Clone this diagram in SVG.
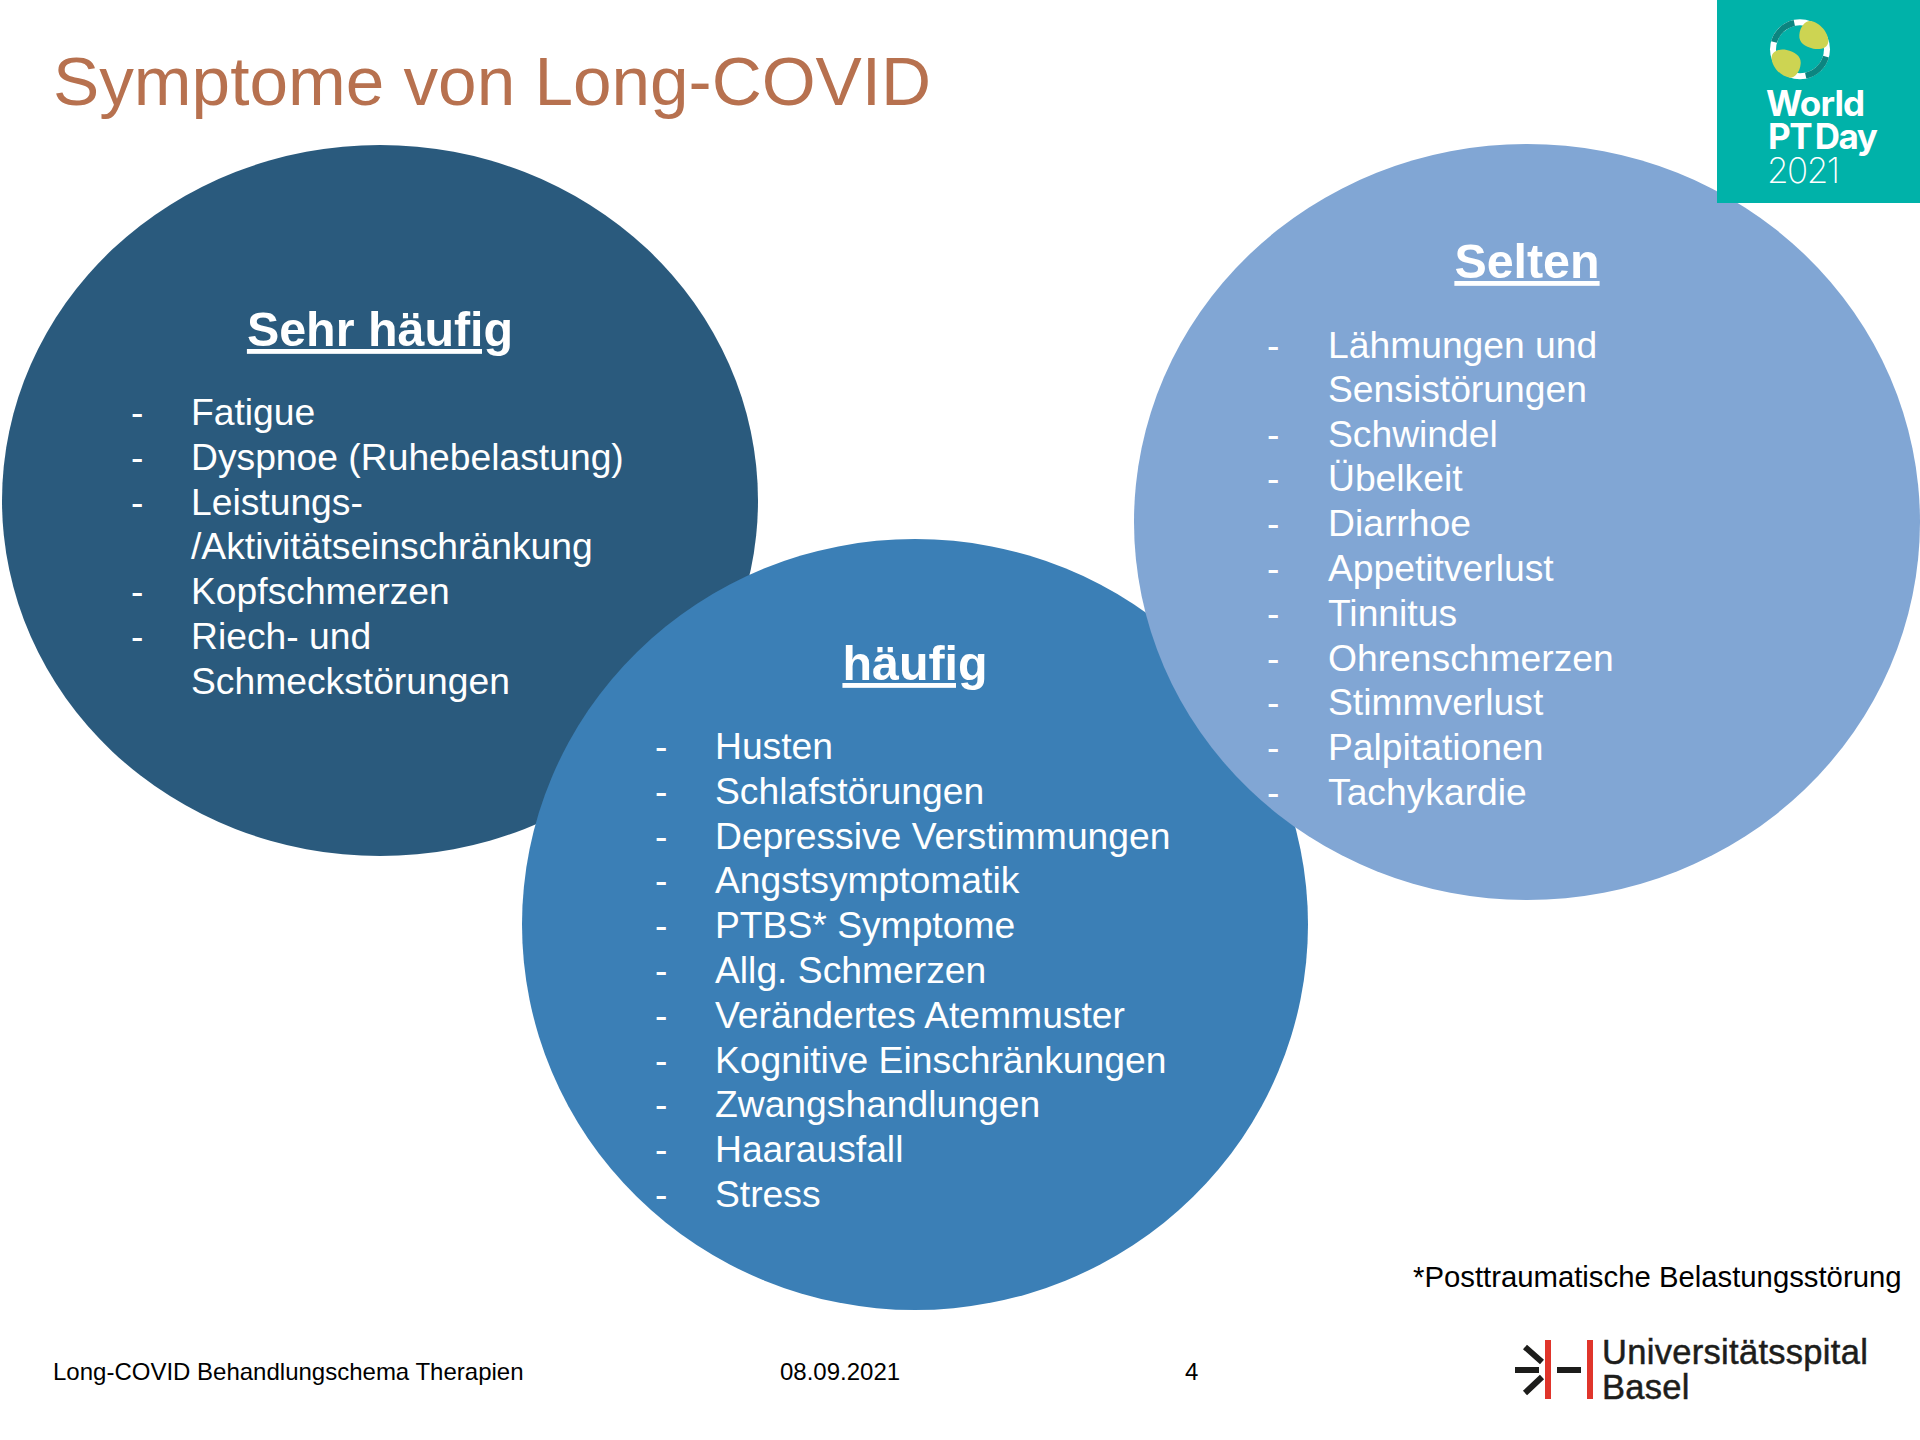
<svg xmlns="http://www.w3.org/2000/svg" width="1920" height="1440" viewBox="0 0 1920 1440">
<style>
text{font-family:"Liberation Sans",Arial,sans-serif}
.title{font-size:69.3px;fill:#b7714f}
.head{font-size:48.4px;font-weight:700;fill:#fff;text-anchor:middle;text-decoration:underline}
.item{font-size:37.25px;fill:#fff}
.foot{font-size:24px;fill:#000}
.note{font-size:29.3px;fill:#000}
.lg{font-family:Inter,"Liberation Sans",sans-serif;fill:#fff;font-size:35px;font-weight:700;letter-spacing:-1.3px}
.ub{fill:#1d1d1b;font-size:34.5px;letter-spacing:.3px;stroke:#1d1d1b;stroke-width:.5px}
.arc{fill:none;stroke:#0c8580;stroke-width:18}
.blob{fill:#cdd452}
</style>
<rect width="1920" height="1440" fill="#fff"/>
<text class="title" x="53" y="105">Symptome von Long-COVID</text>
<g id="node-sehr-haeufig">
<ellipse cx="380" cy="500.5" rx="378" ry="355.5" fill="#2a5a7d"/>
<text class="head" x="380" y="346">Sehr häufig</text>
<text class="item" x="131" y="425">-</text><text class="item" x="191" y="425">Fatigue</text>
<text class="item" x="131" y="470">-</text><text class="item" x="191" y="470">Dyspnoe (Ruhebelastung)</text>
<text class="item" x="131" y="515">-</text><text class="item" x="191" y="515">Leistungs-</text>
<text class="item" x="191" y="559">/Aktivitätseinschränkung</text>
<text class="item" x="131" y="604">-</text><text class="item" x="191" y="604">Kopfschmerzen</text>
<text class="item" x="131" y="649">-</text><text class="item" x="191" y="649">Riech- und</text>
<text class="item" x="191" y="694">Schmeckstörungen</text>
</g>
<g id="node-haeufig">
<ellipse cx="915" cy="924.5" rx="393" ry="385.5" fill="#3b7fb6"/>
<text class="head" x="915" y="680">häufig</text>
<text class="item" x="655" y="759">-</text><text class="item" x="715" y="759">Husten</text>
<text class="item" x="655" y="804">-</text><text class="item" x="715" y="804">Schlafstörungen</text>
<text class="item" x="655" y="849">-</text><text class="item" x="715" y="849">Depressive Verstimmungen</text>
<text class="item" x="655" y="893">-</text><text class="item" x="715" y="893">Angstsymptomatik</text>
<text class="item" x="655" y="938">-</text><text class="item" x="715" y="938">PTBS* Symptome</text>
<text class="item" x="655" y="983">-</text><text class="item" x="715" y="983">Allg. Schmerzen</text>
<text class="item" x="655" y="1028">-</text><text class="item" x="715" y="1028">Verändertes Atemmuster</text>
<text class="item" x="655" y="1073">-</text><text class="item" x="715" y="1073">Kognitive Einschränkungen</text>
<text class="item" x="655" y="1117">-</text><text class="item" x="715" y="1117">Zwangshandlungen</text>
<text class="item" x="655" y="1162">-</text><text class="item" x="715" y="1162">Haarausfall</text>
<text class="item" x="655" y="1207">-</text><text class="item" x="715" y="1207">Stress</text>
</g>
<g id="node-selten">
<ellipse cx="1527" cy="522" rx="393" ry="378" fill="#81a6d4"/>
<text class="head" x="1527" y="278">Selten</text>
<text class="item" x="1267" y="358">-</text><text class="item" x="1328" y="358">Lähmungen und</text>
<text class="item" x="1328" y="402">Sensistörungen</text>
<text class="item" x="1267" y="447">-</text><text class="item" x="1328" y="447">Schwindel</text>
<text class="item" x="1267" y="491">-</text><text class="item" x="1328" y="491">Übelkeit</text>
<text class="item" x="1267" y="536">-</text><text class="item" x="1328" y="536">Diarrhoe</text>
<text class="item" x="1267" y="581">-</text><text class="item" x="1328" y="581">Appetitverlust</text>
<text class="item" x="1267" y="626">-</text><text class="item" x="1328" y="626">Tinnitus</text>
<text class="item" x="1267" y="671">-</text><text class="item" x="1328" y="671">Ohrenschmerzen</text>
<text class="item" x="1267" y="715">-</text><text class="item" x="1328" y="715">Stimmverlust</text>
<text class="item" x="1267" y="760">-</text><text class="item" x="1328" y="760">Palpitationen</text>
<text class="item" x="1267" y="805">-</text><text class="item" x="1328" y="805">Tachykardie</text>
</g>
<g id="logo-world-pt-day">
<rect x="1717" y="0" width="203" height="203" fill="#00b2a9"/>
<g transform="translate(1760 10) scale(.3333)">
<circle cx="120" cy="118" r="90" fill="#fff"/>
<circle cx="120" cy="118" r="72" fill="#00b2a9"/>
<path class="arc" d="M42 96A81 81 0 0 1 103 39"/>
<path class="arc" d="M198 140A81 81 0 0 1 137 197"/>
<path class="blob" d="M118 75C120 50 135 33 150 33C180 36 207 70 205 95C203 115 180 120 160 116C135 110 116 98 118 75Z"/>
<path class="blob" d="M122 161C120 186 105 203 90 203C60 200 33 166 35 141C37 121 60 116 80 120C105 126 124 138 122 161Z"/>
</g>
<text class="lg" x="1766" y="116" style="letter-spacing:-.8px">World</text>
<text class="lg" x="1768" y="149" style="word-spacing:-3.5px;letter-spacing:-1.4px">PT Day</text>
<text class="lg" x="1767" y="183" style="font-weight:200;letter-spacing:-1.5px">2021</text>
</g>
<text class="note" x="1413" y="1287">*Posttraumatische Belastungsstörung</text>
<text class="foot" x="53" y="1380">Long-COVID Behandlungschema Therapien</text>
<text class="foot" x="780" y="1380">08.09.2021</text>
<text class="foot" x="1185" y="1380">4</text>
<g id="logo-unispital">
<path d="M1545 1340h6v59h-6zM1587 1340h6v59h-6z" fill="#e0352b"/>
<path d="M1515 1367h24v6h-24zM1557 1367h24v6h-24z" fill="#1d1d1b"/>
<path d="M1525 1347L1542 1362M1525 1393L1542 1377" stroke="#1d1d1b" stroke-width="6" fill="none"/>
<text class="ub" x="1602" y="1364">Universitätsspital</text>
<text class="ub" x="1602" y="1399">Basel</text>
</g>
</svg>
